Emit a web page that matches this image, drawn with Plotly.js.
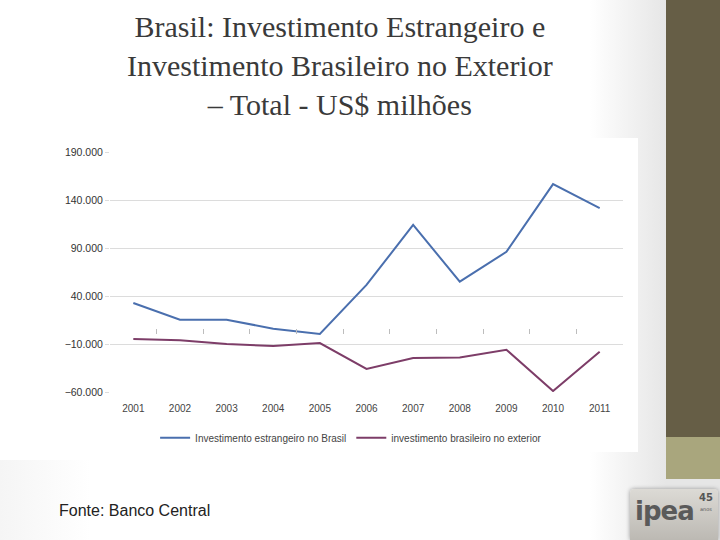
<!DOCTYPE html>
<html>
<head>
<meta charset="utf-8">
<script src="https://cdn.plot.ly/plotly-3.0.1.min.js"></script>
<style>
  html, body { margin:0; padding:0; width:720px; height:540px; overflow:hidden; background:#fff; }
  #bg { position:absolute; left:0; top:0; width:720px; height:540px;
        background: linear-gradient(to right, #ffffff 0px, #ffffff 590px, #e6e6e6 666px); }
  #bgl { position:absolute; left:0; top:460px; width:90px; height:80px;
        background: linear-gradient(to right, #f5f5f5, rgba(255,255,255,0)); }
  #box { position:absolute; left:48px; top:138px; width:590px; height:314px; background:#fff; }
  #bar1 { position:absolute; left:666px; top:0; width:54px; height:437px; background:#665e46; }
  #bar2 { position:absolute; left:666px; top:437px; width:54px; height:42px; background:#a9a67d; }
  #logo { position:absolute; left:630px; top:489px; width:88px; height:51px;
          background: linear-gradient(to bottom, #dcdad5, #bcb9b3); border-radius:4px 4px 0 0;
          box-shadow: 0 0 4px #999; }
  #logo .t { position:absolute; left:5px; top:8px; font-family:"DejaVu Sans", sans-serif; font-weight:bold;
             font-size:26px; color:#5a5a5a; letter-spacing:-1px; line-height:28px; }
  #logo .n { position:absolute; left:69px; top:3px; font-family:"DejaVu Sans", sans-serif; font-weight:bold;
             font-size:10px; line-height:11px; color:#555; }
  #logo .a { position:absolute; left:70px; top:17px; font-family:"DejaVu Sans", sans-serif; font-size:5px; line-height:6px; color:#555; }
  #chart { position:absolute; left:0; top:0; width:720px; height:540px; }
</style>
</head>
<body>
<div id="bg"></div>
<div id="bgl"></div>
<div id="box"></div>
<div id="bar1"></div>
<div id="bar2"></div>
<div id="logo"><span class="t">ipea</span><span class="n">45</span><span class="a">anos</span></div>
<div id="chart"></div>
<script>
// Data (US$ milhões)
const years = ['2001','2002','2003','2004','2005','2006','2007','2008','2009','2010','2011'];
const investEstrangeiro = [32700, 15300, 15200, 6000, 400, 51500, 114000, 55000, 86000, 156500, 131500];
const investBrasileiro = [-4800, -6000, -10000, -12000, -9000, -36000, -24600, -24000, -16000, -59000, -18000];
const seriesNames = ['Investimento estrangeiro no Brasil', 'investimento brasileiro no exterior'];
const yTicks = [-60000, -10000, 40000, 90000, 140000, 190000];

const traces = [
  { x: years, y: investEstrangeiro, name: seriesNames[0], type: 'scatter', mode: 'lines',
    line: { color: '#4a6fae', width: 2 } },
  { x: years, y: investBrasileiro, name: seriesNames[1], type: 'scatter', mode: 'lines',
    line: { color: '#7d3d68', width: 2 } }
];

const layout = {
  width: 720, height: 540,
  paper_bgcolor: 'rgba(0,0,0,0)', plot_bgcolor: 'rgba(0,0,0,0)',
  separators: ',.',
  margin: { l: 110, r: 97, t: 152, b: 148 },
  title: {
    text: 'Brasil: Investimento Estrangeiro e<br>Investimento Brasileiro no Exterior<br>– Total - US$ milhões',
    font: { family: 'Liberation Serif, serif', size: 30, color: '#3a3a3a' },
    x: 0.472, xref: 'container', xanchor: 'center',
    y: 0.931, yref: 'container', yanchor: 'top'
  },
  xaxis: {
    type: 'category', range: [-0.5, 10.5],
    showgrid: false, zeroline: false, showline: false, ticks: '', ticklabelstandoff: 9,
    tickfont: { family: 'Liberation Sans, sans-serif', size: 10, color: '#444' }
  },
  xaxis2: {
    type: 'category', overlaying: 'x', matches: 'x', anchor: 'free', position: 0.24,
    showticklabels: false, showgrid: false, zeroline: false, showline: false,
    ticks: 'inside', tickson: 'boundaries', ticklen: 5, tickcolor: '#bdbdbd'
  },
  yaxis: {
    range: [-60000, 190000], tickvals: yTicks, tickformat: ',d',
    showgrid: true, gridcolor: '#dcdcdc', gridwidth: 1, zeroline: false, showline: false,
    ticks: 'outside', ticklen: 4, tickcolor: '#dcdcdc',
    tickfont: { family: 'Liberation Sans, sans-serif', size: 10.5, color: '#333' }
  },
  showlegend: true,
  legend: {
    orientation: 'h', x: 0.47, xanchor: 'center', y: -0.13, yanchor: 'top',
    font: { family: 'Liberation Sans, sans-serif', size: 10, color: '#444' },
    bgcolor: 'rgba(0,0,0,0)'
  },
  annotations: [{
    text: 'Fonte: Banco Central', xref: 'paper', yref: 'paper',
    x: -0.103, xanchor: 'left', y: -0.492, yanchor: 'middle', showarrow: false,
    font: { family: 'Liberation Sans, Arial, sans-serif', size: 16, color: '#222' }
  }]
};

// empty trace so the boundary ticks of xaxis2 (category axis at y = 0) are drawn
traces.push({ x: years, y: years.map(() => null), xaxis: 'x2', type: 'scatter', mode: 'lines',
  showlegend: false, hoverinfo: 'skip' });

Plotly.newPlot('chart', traces, layout, { displayModeBar: false, staticPlot: true });
</script>
</body>
</html>
